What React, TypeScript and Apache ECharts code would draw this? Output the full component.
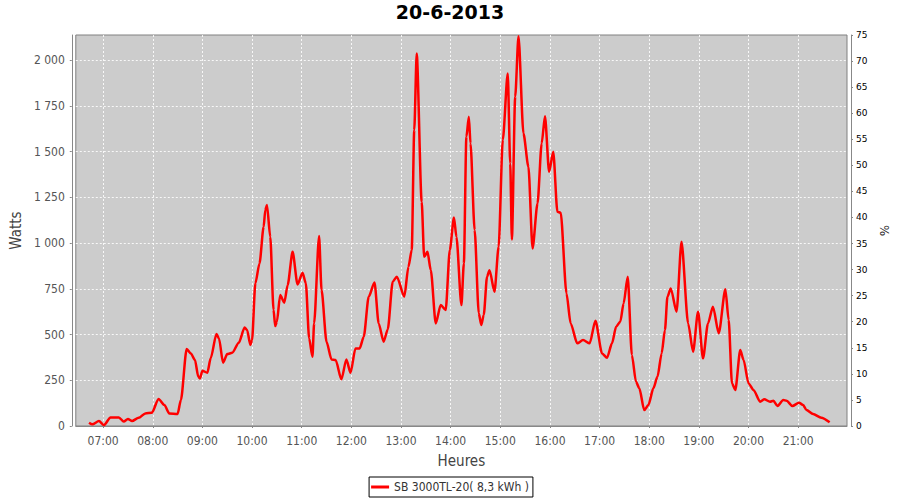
import React, { useEffect, useRef } from "react";
import * as echarts from "echarts";

const TITLE = "20-6-2013";
const SERIES_NAME = "SB 3000TL-20( 8,3 kWh )";

const times = [
  "06:43","06:47","06:55","07:01","07:09","07:19","07:25","07:30","07:35","07:43","07:51","07:59",
  "08:07","08:14","08:20","08:30","08:34","08:41","08:46","08:51","08:55","08:57",
  "09:00","09:06","09:10","09:17","09:20","09:25","09:30","09:36","09:44","09:51","09:54","09:58",
  "10:00","10:04","10:09","10:14","10:16","10:18","10:22","10:26","10:28","10:30","10:34","10:39","10:43","10:49","10:55",
  "11:01","11:05","11:09","11:13","11:15","11:21","11:24","11:30","11:36","11:41","11:48","11:54","11:59",
  "12:05","12:10","12:15","12:21","12:28","12:33","12:39","12:44","12:50","12:55",
  "13:04","13:09","13:13","13:16","13:19","13:25","13:28","13:32","13:36","13:42","13:48","13:54","13:59",
  "14:04","14:07","14:13","14:16","14:19","14:22","14:24","14:29","14:34","14:37","14:40","14:44","14:47","14:53","14:58",
  "15:03","15:09","15:12","15:14","15:18","15:22","15:28","15:34","15:39","15:45","15:50","15:54","15:59",
  "16:04","16:09","16:13","16:20","16:25","16:33","16:40","16:48","16:55",
  "17:03","17:09","17:15","17:20","17:25","17:29","17:34","17:39","17:44","17:48","17:54","17:59",
  "18:05","18:10","18:15","18:19","18:22","18:26","18:33","18:39","18:47","18:53","18:59",
  "19:05","19:11","19:17","19:24","19:32","19:36","19:40","19:44","19:50","19:54",
  "20:00","20:06","20:14","20:19","20:26","20:30","20:35","20:42","20:46","20:53",
  "21:01","21:06","21:10","21:18","21:28","21:38"
];

const watts = [
  18,9,27,5,47,47,24,38,27,45,69,73,
  148,115,69,66,142,421,397,361,270,260,
  302,291,370,503,479,346,393,400,455,539,525,443,
  470,780,889,1089,1180,1208,1034,634,546,570,716,674,770,952,774,
  838,780,479,379,561,1038,743,461,364,361,255,364,291,
  424,424,488,707,785,561,461,528,789,816,
  707,871,962,1617,2037,1226,925,952,852,561,661,634,962,
  1140,1034,661,889,1581,1690,1545,1071,616,552,607,816,852,734,980,
  1563,1927,1435,1020,1800,2131,1599,1417,971,1217,1545,1694,1390,
  1499,1171,1166,725,561,452,470,452,575,
  397,373,452,543,570,670,816,388,242,206,87,115,
  206,270,397,525,707,752,625,1007,561,406,625,
  370,561,652,507,747,579,233,197,415,361,
  233,197,133,146,133,138,109,142,138,109,
  127,115,87,66,45,20
];

const hourTicks = [7, 8, 9, 10, 11, 12, 13, 14, 15, 16, 17, 18, 19, 20, 21];
const wattTicks = [0, 250, 500, 750, 1000, 1250, 1500, 1750, 2000];

const X_MIN = 387; // 06:27 in minutes
const X_MAX = 1319; // 21:59 in minutes
const W_MAX = 2137.5;
const PCT_MAX = 75;

const FONT = "'DejaVu Sans Condensed', 'DejaVu Sans', sans-serif";

function toMinutes(t: string): number {
  const [h, m] = t.split(":").map(Number);
  return h * 60 + m;
}

function fmtThousands(v: number): string {
  const s = String(Math.round(v));
  return s.replace(/\B(?=(\d{3})+(?!\d))/g, " ");
}

export default function App() {
  const ref = useRef<HTMLDivElement>(null);

  useEffect(() => {
    if (!ref.current) return;
    const chart = echarts.init(ref.current, null, { renderer: "svg" });
    const data = times.map((t, i) => [toMinutes(t), watts[i]]);
    const axisGray = "#888888";

    chart.setOption({
      animation: false,
      backgroundColor: "#ffffff",
      title: {
        text: TITLE,
        left: "center",
        top: 2,
        padding: 0,
        textStyle: {
          fontFamily: "'DejaVu Sans', sans-serif",
          fontWeight: "bold",
          fontSize: 19,
          color: "#000000",
        },
      },
      legend: {
        data: [{ name: SERIES_NAME, icon: "rect" }],
        left: "center",
        top: 477,
        borderColor: "#000000",
        borderWidth: 1,
        padding: [4, 4, 4, 2],
        itemWidth: 18,
        itemHeight: 3,
        itemGap: 4,
        textStyle: { fontFamily: FONT, fontSize: 12, color: "#333333" },
      },
      grid: {
        left: 75,
        right: 53,
        top: 35,
        bottom: 74,
        show: true,
        backgroundColor: "#cccccc",
        borderColor: "#808080",
        borderWidth: 1,
      },
      xAxis: {
        type: "value",
        min: X_MIN,
        max: X_MAX,
        offset: 4,
        name: "Heures",
        nameLocation: "middle",
        nameGap: 23,
        nameTextStyle: { fontFamily: FONT, fontSize: 15, color: "#444444" },
        axisLine: { show: true, lineStyle: { color: axisGray, width: 1 } },
        axisTick: {
          show: true,
          length: 2,
          lineStyle: { color: axisGray },
          customValues: hourTicks.map((h) => h * 60),
        },
        axisLabel: {
          customValues: hourTicks.map((h) => h * 60),
          margin: 5,
          fontFamily: FONT,
          fontSize: 12,
          color: "#555555",
          formatter: (v: number) => {
            const h = Math.round(v / 60);
            return (h < 10 ? "0" : "") + h + ":00";
          },
        },
        splitLine: {
          show: true,
          lineStyle: { color: "#ffffff", type: [2, 2], width: 1, opacity: 0.85 },
        },
      },
      yAxis: [
        {
          type: "value",
          min: 0,
          max: W_MAX,
          offset: 4,
          position: "left",
          name: "Watts",
          nameLocation: "middle",
          nameGap: 44,
          nameTextStyle: { fontFamily: FONT, fontSize: 15, color: "#444444" },
          axisLine: { show: true, lineStyle: { color: axisGray, width: 1 } },
          axisTick: {
            show: true,
            length: 2,
            lineStyle: { color: axisGray },
            customValues: wattTicks,
          },
          axisLabel: {
            customValues: wattTicks,
            margin: 7,
            fontFamily: FONT,
            fontSize: 12,
            color: "#555555",
            formatter: (v: number) => fmtThousands(v),
          },
          splitLine: {
            show: true,
            lineStyle: { color: "#ffffff", type: [2, 2], width: 1, opacity: 0.85 },
          },
        },
        {
          type: "value",
          min: 0,
          max: PCT_MAX,
          interval: 5,
          offset: 4,
          position: "right",
          name: "%",
          nameLocation: "middle",
          nameGap: 24,
          nameRotate: -90,
          nameTextStyle: { fontFamily: FONT, fontSize: 13, color: "#222222" },
          axisLine: { show: true, lineStyle: { color: axisGray, width: 1 } },
          axisTick: { show: true, length: 2, lineStyle: { color: axisGray } },
          axisLabel: {
            margin: 5,
            fontFamily: "'DejaVu Sans', sans-serif",
            fontSize: 9,
            color: "#000000",
          },
          splitLine: { show: false },
        },
      ],
      series: [
        {
          name: SERIES_NAME,
          type: "line",
          data,
          xAxisIndex: 0,
          yAxisIndex: 0,
          showSymbol: false,
          symbol: "none",
          smooth: 0.25,
          smoothMonotone: "x",
          lineStyle: { color: "#ff0000", width: 2.5 },
          itemStyle: { color: "#ff0000" },
        },
      ],
    });

    return () => chart.dispose();
  }, []);

  return (
    <div
      ref={ref}
      style={{ position: "fixed", left: 0, top: 0, width: 900, height: 500, background: "#fff" }}
    />
  );
}
